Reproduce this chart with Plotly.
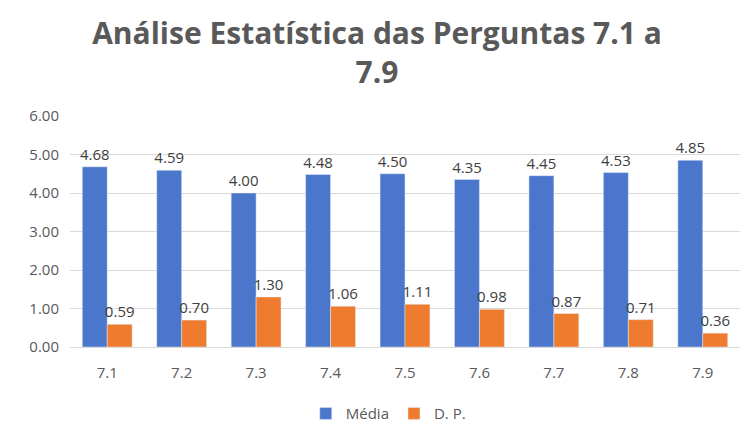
import plotly.graph_objects as go

categories = ["7.1", "7.2", "7.3", "7.4", "7.5", "7.6", "7.7", "7.8", "7.9"]
media = [4.68, 4.59, 4.00, 4.48, 4.50, 4.35, 4.45, 4.53, 4.85]
dp = [0.59, 0.70, 1.30, 1.06, 1.11, 0.98, 0.87, 0.71, 0.36]
y_ticks = [0, 1, 2, 3, 4, 5, 6]

fig = go.Figure()
fig.add_trace(go.Bar(
    name="Média", x=categories, y=media,
    marker=dict(color="#4A76CC"),
    text=[f"{v:.2f}" for v in media], textposition="outside",
    textfont=dict(color="#404040", size=15, family="Open Sans"),
    constraintext="none", cliponaxis=False,
))
fig.add_trace(go.Bar(
    name="D. P.", x=categories, y=dp,
    marker=dict(color="#EE7B2E"),
    text=[f"{v:.2f}" for v in dp], textposition="outside",
    textfont=dict(color="#404040", size=15, family="Open Sans"),
    constraintext="none", cliponaxis=False,
))

fig.update_layout(
    width=744, height=432,
    paper_bgcolor="white", plot_bgcolor="white",
    barmode="group", bargap=0.33, bargroupgap=0,
    margin=dict(l=62, r=12, t=108, b=93, autoexpand=False),
    title=dict(
        text="<b>Análise Estatística das Perguntas 7.1 a<br>7.9</b>",
        x=0.496, xanchor="center", y=0.917, yanchor="top",
        font=dict(family="Open Sans", size=30, color="#595959"),
    ),
    font=dict(family="Open Sans", color="#595959", size=15),
    legend=dict(orientation="h", x=0.475, xanchor="center", y=-0.217, yanchor="top",
                itemwidth=30, font=dict(size=15, color="#595959")),
    yaxis=dict(range=[0, 6], tickvals=y_ticks, tickformat=".2f",
               gridcolor="#D9D9D9", zeroline=False, showline=False,
               ticklabelstandoff=10,
               tickfont=dict(size=15, color="#595959")),
    xaxis=dict(showline=True, linecolor="#D9D9D9", ticklabelstandoff=12,
               tickfont=dict(size=15, color="#595959")),
)
fig.write_html("out.html")
